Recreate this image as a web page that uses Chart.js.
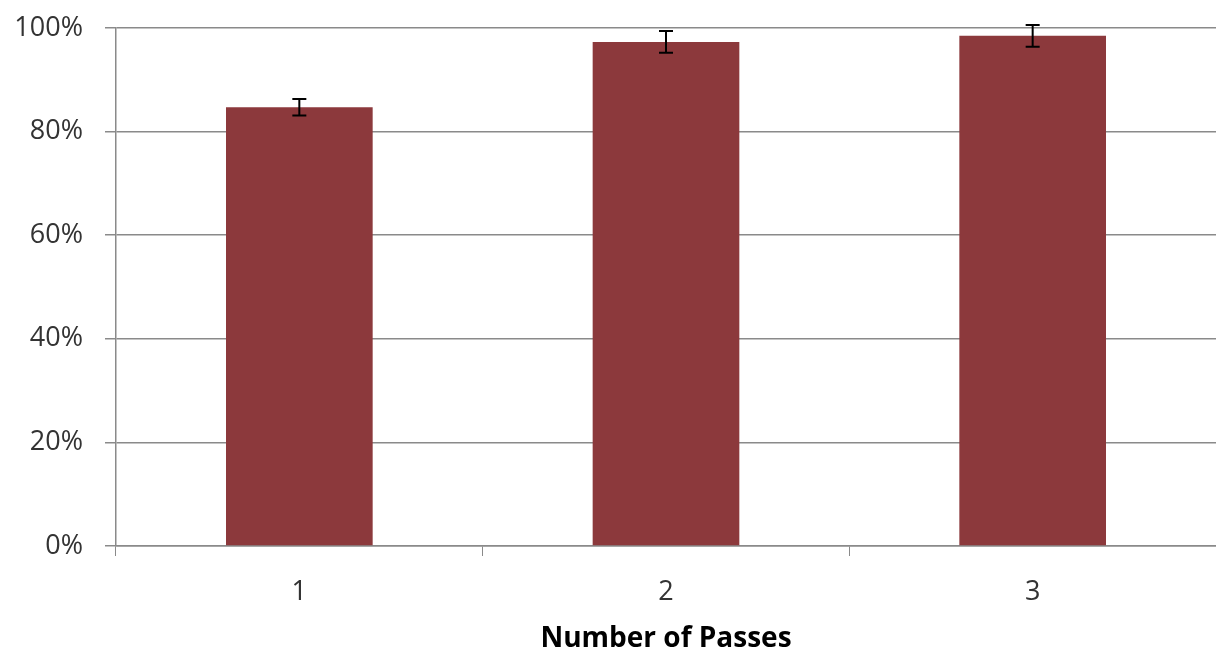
<!DOCTYPE html>
<html>
<head>
<meta charset="utf-8">
<script src="https://cdn.jsdelivr.net/npm/chart.js@4"></script>
<style>
  html, body { margin: 0; padding: 0; background: #fff; }
  #wrap { width: 1216px; height: 647px; position: relative; }
</style>
</head>
<body>
<div id="wrap"><canvas id="passChart"></canvas></div>
<script>
const passes = ['1', '2', '3'];
const accuracy = [84.7, 97.3, 98.5];
const errors = [1.6, 2.1, 2.1];
const yTickValues = [0, 20, 40, 60, 80, 100];

document.addEventListener('DOMContentLoaded', function() {

  /* error bars drawn from the y scale */
  const errorBars = {
    id: 'errorBars',
    afterDatasetsDraw(chart) {
      const ctx = chart.ctx;
      const meta = chart.getDatasetMeta(0);
      const y = chart.scales.y;
      ctx.save();
      ctx.strokeStyle = '#000';
      ctx.lineWidth = 2;
      meta.data.forEach((bar, i) => {
        const top = y.getPixelForValue(accuracy[i] + errors[i]);
        const bottom = y.getPixelForValue(accuracy[i] - errors[i]);
        const half = 7;
        ctx.beginPath();
        ctx.moveTo(bar.x, top);
        ctx.lineTo(bar.x, bottom);
        ctx.moveTo(bar.x - half, top);
        ctx.lineTo(bar.x + half, top);
        ctx.moveTo(bar.x - half, bottom);
        ctx.lineTo(bar.x + half, bottom);
        ctx.stroke();
      });
      ctx.restore();
    }
  };

  const ctx = document.getElementById('passChart').getContext('2d');
  new Chart(ctx, {
    type: 'bar',
    data: {
      labels: passes,
      datasets: [{
        label: 'Accuracy',
        data: accuracy,
        backgroundColor: '#8C393C',
        barPercentage: 0.4,
        categoryPercentage: 1.0
      }]
    },
    options: {
      responsive: true,
      maintainAspectRatio: false,
      animation: false,
      layout: { padding: { top: 28, left: 0, right: 0, bottom: 0 } },
      plugins: {
        legend: { display: false },
        tooltip: { enabled: false }
      },
      scales: {
        x: {
          grid: {
            drawOnChartArea: false,
            drawTicks: true,
            tickLength: 10,
            color: '#8a8a8a',
            offset: true
          },
          border: { color: '#8a8a8a', width: 1.5 },
          ticks: {
            color: '#333',
            padding: 20,
            font: { family: 'Open Sans', size: 27 }
          },
          title: {
            display: true,
            text: 'Number of Passes',
            color: '#000',
            padding: { top: 0, bottom: -6 },
            font: { family: 'Open Sans', size: 28, weight: 'bold', lineHeight: 1 }
          },
          afterFit: function(scale) {
            scale.height = 101;
            scale.paddingLeft = 0;
            scale.paddingRight = 0;
          }
        },
        y: {
          min: 0,
          max: 100,
          afterBuildTicks: function(scale) {
            scale.ticks = yTickValues.map(v => ({ value: v }));
          },
          grid: {
            color: '#8a8a8a',
            lineWidth: 1.5,
            tickLength: 11
          },
          border: { color: '#8a8a8a', width: 1.5 },
          ticks: {
            color: '#333',
            padding: 22,
            font: { family: 'Open Sans', size: 27 },
            callback: function(value) { return value + '%'; }
          },
          afterFit: function(scale) {
            scale.width = 116;
            scale.paddingTop = 0;
            scale.paddingBottom = 0;
          }
        }
      }
    },
    plugins: [errorBars]
  });
});
</script>
</body>
</html>
